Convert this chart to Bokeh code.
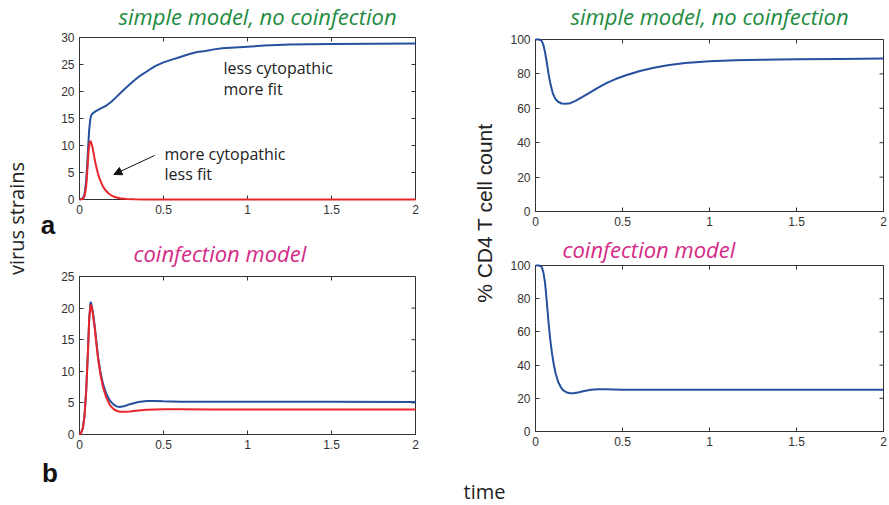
from bokeh.plotting import figure
from bokeh.layouts import row, column
from bokeh.models import (Range1d, LinearAxis, FixedTicker, CustomJSTickFormatter,
                          Label, Arrow, NormalHead, Title)
from bokeh.embed import file_html
from bokeh.resources import INLINE

# ---------------- data ----------------
x_ticks = [0, 0.5, 1, 1.5, 2]

# (a) simple model, virus strains
ta_blue = [0, 0.02, 0.03, 0.04, 0.046, 0.052, 0.058, 0.064, 0.07, 0.08, 0.1, 0.13, 0.16,
           0.19, 0.22, 0.25, 0.28, 0.32, 0.36, 0.4, 0.45, 0.5, 0.55, 0.6, 0.65, 0.7, 0.75,
           0.8, 0.85, 0.9, 1.0, 1.1, 1.25, 1.5, 1.75, 2.0]
va_blue = [0, 0.2, 1.0, 3.5, 6.5, 10.0, 13.0, 14.8, 15.6, 16.0, 16.4, 16.9, 17.4,
           18.1, 19.0, 19.9, 20.8, 21.9, 22.9, 23.7, 24.7, 25.4, 25.9, 26.4, 26.9, 27.3, 27.5,
           27.8, 28.0, 28.1, 28.3, 28.5, 28.7, 28.8, 28.85, 28.9]
ta_red = [0, 0.02, 0.03, 0.04, 0.048, 0.055, 0.062, 0.068, 0.075, 0.083, 0.09, 0.1, 0.11,
          0.12, 0.135, 0.15, 0.17, 0.19, 0.21, 0.24, 0.28, 0.33, 0.4, 0.5, 1.0, 2.0]
va_red = [0, 0.1, 0.6, 2.5, 6.0, 9.3, 10.8, 10.7, 10.0, 8.7, 7.5, 6.0, 4.8,
          3.8, 2.7, 1.9, 1.2, 0.75, 0.45, 0.22, 0.09, 0.03, 0.01, 0, 0, 0]
ya_ticks = [0, 5, 10, 15, 20, 25, 30]

# (b) coinfection model, virus strains
tb = [0, 0.01, 0.02, 0.03, 0.04, 0.05, 0.058, 0.066, 0.072, 0.08, 0.09, 0.1, 0.11, 0.125,
      0.14, 0.16, 0.18, 0.2, 0.22, 0.24, 0.27, 0.3, 0.35, 0.4, 0.45, 0.5, 0.6, 0.8, 1.0, 1.5, 2.0]
vb_blue = [0, 0.3, 1.0, 3.0, 7.0, 13.0, 18.5, 21.0, 20.5, 19.3, 17.3, 14.8, 12.4, 9.8,
           8.0, 6.4, 5.4, 4.8, 4.45, 4.35, 4.5, 4.8, 5.15, 5.3, 5.3, 5.25, 5.2, 5.2, 5.2, 5.2, 5.15]
vb_red = [0, 0.3, 1.0, 3.0, 7.0, 13.0, 18.3, 20.6, 20.2, 19.0, 17.0, 14.5, 12.1, 9.4,
          7.5, 5.8, 4.7, 4.1, 3.75, 3.6, 3.6, 3.65, 3.8, 3.9, 3.95, 4.0, 4.0, 3.95, 3.95, 3.95, 3.95]
yb_ticks = [0, 5, 10, 15, 20, 25]

# (a) simple model, % CD4 T cells
tc = [0, 0.02, 0.035, 0.045, 0.055, 0.065, 0.075, 0.085, 0.1, 0.115, 0.13, 0.15, 0.175, 0.2,
      0.23, 0.27, 0.31, 0.36, 0.41, 0.46, 0.52, 0.6, 0.68, 0.76, 0.86, 1.0, 1.15, 1.3, 1.5,
      1.75, 2.0]
vc = [100, 100, 99.3, 97, 92.5, 86.5, 80, 74.5, 68.5, 65.3, 63.8, 62.8, 62.6, 63.0,
      64.3, 66.6, 69.0, 72.0, 74.8, 77.0, 79.2, 81.7, 83.6, 85.0, 86.3, 87.3, 87.9, 88.2, 88.5,
      88.7, 88.9]

# (b) coinfection model, % CD4 T cells
td = [0, 0.02, 0.035, 0.045, 0.055, 0.065, 0.075, 0.085, 0.095, 0.105, 0.115, 0.13, 0.145,
      0.16, 0.18, 0.2, 0.22, 0.25, 0.28, 0.32, 0.36, 0.4, 0.45, 0.5, 0.6, 0.8, 1.0, 1.5, 2.0]
vd = [100, 100, 99.3, 96, 89.5, 78, 65.5, 55, 47, 40.5, 35.2, 30, 26.8,
      24.8, 23.5, 23.0, 23.1, 23.7, 24.4, 25.1, 25.4, 25.4, 25.3, 25.2, 25.1, 25.1, 25.1, 25.1, 25.1]
ycd_ticks = [0, 20, 40, 60, 80, 100]

# ---------------- styles ----------------
BLUE = "#24509e"
RED = "#e8262b"
GREEN = "#1e8b3f"
MAGENTA = "#d42a87"
AXIS = "#333333"
TXT = "#222222"
TSIZE = "22px"

x_fmt = CustomJSTickFormatter(code="return tick.toString();")


def style_fig(p):
    p.grid.grid_line_color = None
    p.background_fill_color = "white"
    p.border_fill_color = "white"


def make_panel(origin, size, frame, ymax, yticks):
    ox, oy = origin
    w, h = size
    l, t, r, b = frame
    p = figure(width=w, height=h, x_range=Range1d(0, 2), y_range=Range1d(0, ymax),
               output_backend="svg", toolbar_location=None,
               x_axis_location=None, y_axis_location=None,
               min_border_left=l - ox, min_border_right=ox + w - r,
               min_border_top=t - oy, min_border_bottom=oy + h - b)
    p.title = None
    style_fig(p)
    p.outline_line_color = AXIS
    for loc, ticks in (("left", yticks), ("below", x_ticks)):
        ax = LinearAxis(ticker=FixedTicker(ticks=ticks))
        if loc == "below":
            ax.formatter = x_fmt
        ax.major_tick_in = 4
        ax.major_tick_out = 0
        ax.minor_tick_in = 0
        ax.minor_tick_out = 0
        ax.axis_line_color = AXIS
        ax.major_tick_line_color = AXIS
        ax.major_label_text_font = "Liberation Sans"
        ax.major_label_text_font_size = "12px"
        ax.major_label_text_color = AXIS
        ax.major_label_standoff = 5
        p.add_layout(ax, loc)
    # mirrored inward ticks on the top and right edges of the box
    p.ray(x=x_ticks, y=[ymax] * len(x_ticks), length=4, length_units="screen",
          angle=-90, angle_units="deg", line_color=AXIS, line_width=1)
    p.ray(x=[2] * len(yticks), y=yticks, length=4, length_units="screen",
          angle=180, angle_units="deg", line_color=AXIS, line_width=1)
    return p


def strip(origin, size, frame_lr):
    """Blank figure used to hold texts; its frame spans frame_lr horizontally, full height."""
    ox, oy = origin
    w, h = size
    l, r = frame_lr
    f = figure(width=w, height=h, x_range=Range1d(0, 1), y_range=Range1d(0, 1),
               output_backend="svg", toolbar_location=None,
               x_axis_location=None, y_axis_location=None,
               min_border_left=l - ox, min_border_right=ox + w - r,
               min_border_top=0, min_border_bottom=0)
    f.title = None
    style_fig(f)
    f.outline_line_color = None
    return f, (l, oy, r, oy + h)


def add_text(p, frame, px, py, text, size, color=TXT, font="Open Sans", style="normal",
             align="left", angle=0):
    l, t, r, b = frame
    p.add_layout(Label(x=px - l, y=b - py, x_units="screen", y_units="screen", text=text,
                       text_font=font, text_font_size=size, text_font_style=style,
                       text_color=color, text_align=align, text_baseline="middle",
                       angle=angle, angle_units="deg"))


def curve(p, t, v, color):
    p.line(t, v, line_color=color, line_width=2, level="overlay")


# ---------------- panels (page pixel boxes: left, top, right, bottom) ----------------
FA = (79, 37, 415, 199)
FB = (79, 276, 415, 434)
FC = (535, 39, 883, 211)
FD = (535, 263, 883, 431)

sA, SA = strip((58, 0), (402, 31), (FA[0], FA[2]))
add_text(sA, SA, 118, 15, "simple model, no coinfection", TSIZE, color=GREEN, style="italic")

pa = make_panel((58, 31), (402, 191), FA, 30, ya_ticks)
curve(pa, ta_blue, va_blue, BLUE)
curve(pa, ta_red, va_red, RED)
add_text(pa, FA, 223, 67.8, "less cytopathic", "16px")
add_text(pa, FA, 223, 88.1, "more fit", "16px")
add_text(pa, FA, 164, 153.1, "more cytopathic", "16px")
add_text(pa, FA, 164, 173.8, "less fit", "16px")
pa.add_layout(Arrow(end=NormalHead(size=8, fill_color="#111111", line_color="#111111"),
                    x_start=154 - FA[0], y_start=FA[3] - 155,
                    x_end=113.3 - FA[0], y_end=FA[3] - 174,
                    start_units="screen", end_units="screen",
                    line_color="#111111", line_width=1))

sB, SB = strip((58, 222), (402, 46), (FB[0], FB[2]))
add_text(sB, SB, 133, 252.7, "coinfection model", TSIZE, color=MAGENTA, style="italic")

pb = make_panel((58, 268), (402, 236), FB, 25, yb_ticks)
curve(pb, tb, vb_blue, BLUE)
curve(pb, tb, vb_red, RED)

sC, SC = strip((506, 0), (382, 31), (FC[0], FC[2]))
add_text(sC, SC, 570, 15, "simple model, no coinfection", TSIZE, color=GREEN, style="italic")

pc = make_panel((506, 31), (382, 199), FC, 100, ycd_ticks)
curve(pc, tc, vc, BLUE)

pd = make_panel((506, 230), (382, 274), FD, 100, ycd_ticks)
pd.title = Title(text="coinfection model", align="left", offset=562 - FD[0], standoff=3,
                 text_font="Open Sans", text_font_size=TSIZE, text_font_style="italic",
                 text_color=MAGENTA)
curve(pd, td, vd, BLUE)

# ---------------- label strips ----------------
f_vs, FV = strip((0, 0), (58, 504), (0, 58))
add_text(f_vs, FV, 16, 218, "virus strains", "20px", align="center", angle=90)
add_text(f_vs, FV, 47.5, 224, "a", "26px", color="#111111", font="Liberation Sans",
         style="bold", align="center")
add_text(f_vs, FV, 49.5, 472.7, "b", "26px", color="#111111", font="Liberation Sans",
         style="bold", align="center")

f_cd4, FM = strip((460, 0), (46, 504), (460, 506))
add_text(f_cd4, FM, 484, 212.5, "% CD4 T cell count", "21px", font="Liberation Sans",
         align="center", angle=90)
add_text(f_cd4, FM, 484, 491.2, "time", "20px", align="center")

layout = row(f_vs, column(sA, pa, sB, pb), f_cd4, column(sC, pc, pd))

open("out.html", "w").write(file_html(layout, INLINE))
